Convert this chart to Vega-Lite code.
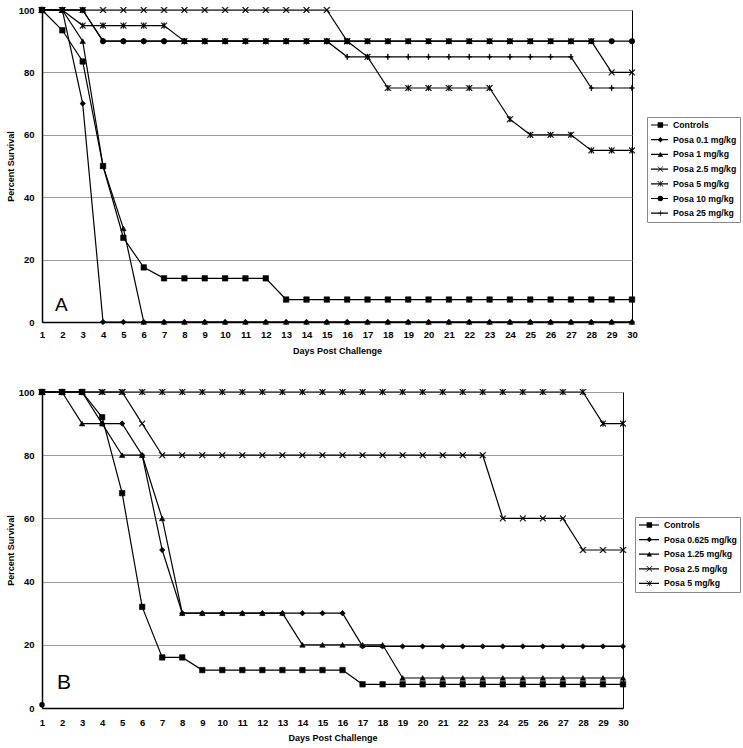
{
"$schema": "https://vega.github.io/schema/vega-lite/v6.json",
"background": "white",
"padding": {"left": 5, "top": 4, "right": 2, "bottom": 2},
"spacing": 30,
"config": {
  "font": "Liberation Sans",
  "view": {"stroke": "black", "strokeWidth": 1},
  "axis": {"labelFont": "Liberation Sans", "labelFontWeight": "bold", "labelFontSize": 9.5, "labelColor": "black", "titleFont": "Liberation Sans", "titleFontWeight": "bold", "titleFontSize": 9, "titleColor": "black", "domainColor": "black", "domainWidth": 1.5, "ticks": false, "gridColor": "#9a9a9a", "gridWidth": 1}
},
"datasets": {
"a": [
{"d":1,"s":"Controls","v":100},{"d":2,"s":"Controls","v":93.5},{"d":3,"s":"Controls","v":83.5},{"d":4,"s":"Controls","v":50},{"d":5,"s":"Controls","v":27},{"d":6,"s":"Controls","v":17.5},{"d":7,"s":"Controls","v":14},{"d":8,"s":"Controls","v":14},{"d":9,"s":"Controls","v":14},{"d":10,"s":"Controls","v":14},{"d":11,"s":"Controls","v":14},{"d":12,"s":"Controls","v":14},{"d":13,"s":"Controls","v":7.2},{"d":14,"s":"Controls","v":7.2},{"d":15,"s":"Controls","v":7.2},{"d":16,"s":"Controls","v":7.2},{"d":17,"s":"Controls","v":7.2},{"d":18,"s":"Controls","v":7.2},{"d":19,"s":"Controls","v":7.2},{"d":20,"s":"Controls","v":7.2},{"d":21,"s":"Controls","v":7.2},{"d":22,"s":"Controls","v":7.2},{"d":23,"s":"Controls","v":7.2},{"d":24,"s":"Controls","v":7.2},{"d":25,"s":"Controls","v":7.2},{"d":26,"s":"Controls","v":7.2},{"d":27,"s":"Controls","v":7.2},{"d":28,"s":"Controls","v":7.2},{"d":29,"s":"Controls","v":7.2},{"d":30,"s":"Controls","v":7.2},
{"d":1,"s":"Posa 0.1 mg/kg","v":100},{"d":2,"s":"Posa 0.1 mg/kg","v":100},{"d":3,"s":"Posa 0.1 mg/kg","v":70},{"d":4,"s":"Posa 0.1 mg/kg","v":0},{"d":5,"s":"Posa 0.1 mg/kg","v":0},{"d":6,"s":"Posa 0.1 mg/kg","v":0},{"d":7,"s":"Posa 0.1 mg/kg","v":0},{"d":8,"s":"Posa 0.1 mg/kg","v":0},{"d":9,"s":"Posa 0.1 mg/kg","v":0},{"d":10,"s":"Posa 0.1 mg/kg","v":0},{"d":11,"s":"Posa 0.1 mg/kg","v":0},{"d":12,"s":"Posa 0.1 mg/kg","v":0},{"d":13,"s":"Posa 0.1 mg/kg","v":0},{"d":14,"s":"Posa 0.1 mg/kg","v":0},{"d":15,"s":"Posa 0.1 mg/kg","v":0},{"d":16,"s":"Posa 0.1 mg/kg","v":0},{"d":17,"s":"Posa 0.1 mg/kg","v":0},{"d":18,"s":"Posa 0.1 mg/kg","v":0},{"d":19,"s":"Posa 0.1 mg/kg","v":0},{"d":20,"s":"Posa 0.1 mg/kg","v":0},{"d":21,"s":"Posa 0.1 mg/kg","v":0},{"d":22,"s":"Posa 0.1 mg/kg","v":0},{"d":23,"s":"Posa 0.1 mg/kg","v":0},{"d":24,"s":"Posa 0.1 mg/kg","v":0},{"d":25,"s":"Posa 0.1 mg/kg","v":0},{"d":26,"s":"Posa 0.1 mg/kg","v":0},{"d":27,"s":"Posa 0.1 mg/kg","v":0},{"d":28,"s":"Posa 0.1 mg/kg","v":0},{"d":29,"s":"Posa 0.1 mg/kg","v":0},{"d":30,"s":"Posa 0.1 mg/kg","v":0},
{"d":1,"s":"Posa 1 mg/kg","v":100},{"d":2,"s":"Posa 1 mg/kg","v":100},{"d":3,"s":"Posa 1 mg/kg","v":90},{"d":4,"s":"Posa 1 mg/kg","v":50},{"d":5,"s":"Posa 1 mg/kg","v":30},{"d":6,"s":"Posa 1 mg/kg","v":0},{"d":7,"s":"Posa 1 mg/kg","v":0},{"d":8,"s":"Posa 1 mg/kg","v":0},{"d":9,"s":"Posa 1 mg/kg","v":0},{"d":10,"s":"Posa 1 mg/kg","v":0},{"d":11,"s":"Posa 1 mg/kg","v":0},{"d":12,"s":"Posa 1 mg/kg","v":0},{"d":13,"s":"Posa 1 mg/kg","v":0},{"d":14,"s":"Posa 1 mg/kg","v":0},{"d":15,"s":"Posa 1 mg/kg","v":0},{"d":16,"s":"Posa 1 mg/kg","v":0},{"d":17,"s":"Posa 1 mg/kg","v":0},{"d":18,"s":"Posa 1 mg/kg","v":0},{"d":19,"s":"Posa 1 mg/kg","v":0},{"d":20,"s":"Posa 1 mg/kg","v":0},{"d":21,"s":"Posa 1 mg/kg","v":0},{"d":22,"s":"Posa 1 mg/kg","v":0},{"d":23,"s":"Posa 1 mg/kg","v":0},{"d":24,"s":"Posa 1 mg/kg","v":0},{"d":25,"s":"Posa 1 mg/kg","v":0},{"d":26,"s":"Posa 1 mg/kg","v":0},{"d":27,"s":"Posa 1 mg/kg","v":0},{"d":28,"s":"Posa 1 mg/kg","v":0},{"d":29,"s":"Posa 1 mg/kg","v":0},{"d":30,"s":"Posa 1 mg/kg","v":0},
{"d":1,"s":"Posa 2.5 mg/kg","v":100},{"d":2,"s":"Posa 2.5 mg/kg","v":100},{"d":3,"s":"Posa 2.5 mg/kg","v":100},{"d":4,"s":"Posa 2.5 mg/kg","v":100},{"d":5,"s":"Posa 2.5 mg/kg","v":100},{"d":6,"s":"Posa 2.5 mg/kg","v":100},{"d":7,"s":"Posa 2.5 mg/kg","v":100},{"d":8,"s":"Posa 2.5 mg/kg","v":100},{"d":9,"s":"Posa 2.5 mg/kg","v":100},{"d":10,"s":"Posa 2.5 mg/kg","v":100},{"d":11,"s":"Posa 2.5 mg/kg","v":100},{"d":12,"s":"Posa 2.5 mg/kg","v":100},{"d":13,"s":"Posa 2.5 mg/kg","v":100},{"d":14,"s":"Posa 2.5 mg/kg","v":100},{"d":15,"s":"Posa 2.5 mg/kg","v":100},{"d":16,"s":"Posa 2.5 mg/kg","v":90},{"d":17,"s":"Posa 2.5 mg/kg","v":90},{"d":18,"s":"Posa 2.5 mg/kg","v":90},{"d":19,"s":"Posa 2.5 mg/kg","v":90},{"d":20,"s":"Posa 2.5 mg/kg","v":90},{"d":21,"s":"Posa 2.5 mg/kg","v":90},{"d":22,"s":"Posa 2.5 mg/kg","v":90},{"d":23,"s":"Posa 2.5 mg/kg","v":90},{"d":24,"s":"Posa 2.5 mg/kg","v":90},{"d":25,"s":"Posa 2.5 mg/kg","v":90},{"d":26,"s":"Posa 2.5 mg/kg","v":90},{"d":27,"s":"Posa 2.5 mg/kg","v":90},{"d":28,"s":"Posa 2.5 mg/kg","v":90},{"d":29,"s":"Posa 2.5 mg/kg","v":80},{"d":30,"s":"Posa 2.5 mg/kg","v":80},
{"d":1,"s":"Posa 5 mg/kg","v":100},{"d":2,"s":"Posa 5 mg/kg","v":100},{"d":3,"s":"Posa 5 mg/kg","v":95},{"d":4,"s":"Posa 5 mg/kg","v":95},{"d":5,"s":"Posa 5 mg/kg","v":95},{"d":6,"s":"Posa 5 mg/kg","v":95},{"d":7,"s":"Posa 5 mg/kg","v":95},{"d":8,"s":"Posa 5 mg/kg","v":90},{"d":9,"s":"Posa 5 mg/kg","v":90},{"d":10,"s":"Posa 5 mg/kg","v":90},{"d":11,"s":"Posa 5 mg/kg","v":90},{"d":12,"s":"Posa 5 mg/kg","v":90},{"d":13,"s":"Posa 5 mg/kg","v":90},{"d":14,"s":"Posa 5 mg/kg","v":90},{"d":15,"s":"Posa 5 mg/kg","v":90},{"d":16,"s":"Posa 5 mg/kg","v":90},{"d":17,"s":"Posa 5 mg/kg","v":85},{"d":18,"s":"Posa 5 mg/kg","v":75},{"d":19,"s":"Posa 5 mg/kg","v":75},{"d":20,"s":"Posa 5 mg/kg","v":75},{"d":21,"s":"Posa 5 mg/kg","v":75},{"d":22,"s":"Posa 5 mg/kg","v":75},{"d":23,"s":"Posa 5 mg/kg","v":75},{"d":24,"s":"Posa 5 mg/kg","v":65},{"d":25,"s":"Posa 5 mg/kg","v":60},{"d":26,"s":"Posa 5 mg/kg","v":60},{"d":27,"s":"Posa 5 mg/kg","v":60},{"d":28,"s":"Posa 5 mg/kg","v":55},{"d":29,"s":"Posa 5 mg/kg","v":55},{"d":30,"s":"Posa 5 mg/kg","v":55},
{"d":1,"s":"Posa 10 mg/kg","v":100},{"d":2,"s":"Posa 10 mg/kg","v":100},{"d":3,"s":"Posa 10 mg/kg","v":100},{"d":4,"s":"Posa 10 mg/kg","v":90},{"d":5,"s":"Posa 10 mg/kg","v":90},{"d":6,"s":"Posa 10 mg/kg","v":90},{"d":7,"s":"Posa 10 mg/kg","v":90},{"d":8,"s":"Posa 10 mg/kg","v":90},{"d":9,"s":"Posa 10 mg/kg","v":90},{"d":10,"s":"Posa 10 mg/kg","v":90},{"d":11,"s":"Posa 10 mg/kg","v":90},{"d":12,"s":"Posa 10 mg/kg","v":90},{"d":13,"s":"Posa 10 mg/kg","v":90},{"d":14,"s":"Posa 10 mg/kg","v":90},{"d":15,"s":"Posa 10 mg/kg","v":90},{"d":16,"s":"Posa 10 mg/kg","v":90},{"d":17,"s":"Posa 10 mg/kg","v":90},{"d":18,"s":"Posa 10 mg/kg","v":90},{"d":19,"s":"Posa 10 mg/kg","v":90},{"d":20,"s":"Posa 10 mg/kg","v":90},{"d":21,"s":"Posa 10 mg/kg","v":90},{"d":22,"s":"Posa 10 mg/kg","v":90},{"d":23,"s":"Posa 10 mg/kg","v":90},{"d":24,"s":"Posa 10 mg/kg","v":90},{"d":25,"s":"Posa 10 mg/kg","v":90},{"d":26,"s":"Posa 10 mg/kg","v":90},{"d":27,"s":"Posa 10 mg/kg","v":90},{"d":28,"s":"Posa 10 mg/kg","v":90},{"d":29,"s":"Posa 10 mg/kg","v":90},{"d":30,"s":"Posa 10 mg/kg","v":90},
{"d":1,"s":"Posa 25 mg/kg","v":100},{"d":2,"s":"Posa 25 mg/kg","v":100},{"d":3,"s":"Posa 25 mg/kg","v":100},{"d":4,"s":"Posa 25 mg/kg","v":90},{"d":5,"s":"Posa 25 mg/kg","v":90},{"d":6,"s":"Posa 25 mg/kg","v":90},{"d":7,"s":"Posa 25 mg/kg","v":90},{"d":8,"s":"Posa 25 mg/kg","v":90},{"d":9,"s":"Posa 25 mg/kg","v":90},{"d":10,"s":"Posa 25 mg/kg","v":90},{"d":11,"s":"Posa 25 mg/kg","v":90},{"d":12,"s":"Posa 25 mg/kg","v":90},{"d":13,"s":"Posa 25 mg/kg","v":90},{"d":14,"s":"Posa 25 mg/kg","v":90},{"d":15,"s":"Posa 25 mg/kg","v":90},{"d":16,"s":"Posa 25 mg/kg","v":85},{"d":17,"s":"Posa 25 mg/kg","v":85},{"d":18,"s":"Posa 25 mg/kg","v":85},{"d":19,"s":"Posa 25 mg/kg","v":85},{"d":20,"s":"Posa 25 mg/kg","v":85},{"d":21,"s":"Posa 25 mg/kg","v":85},{"d":22,"s":"Posa 25 mg/kg","v":85},{"d":23,"s":"Posa 25 mg/kg","v":85},{"d":24,"s":"Posa 25 mg/kg","v":85},{"d":25,"s":"Posa 25 mg/kg","v":85},{"d":26,"s":"Posa 25 mg/kg","v":85},{"d":27,"s":"Posa 25 mg/kg","v":85},{"d":28,"s":"Posa 25 mg/kg","v":75},{"d":29,"s":"Posa 25 mg/kg","v":75},{"d":30,"s":"Posa 25 mg/kg","v":75}
],
"b": [
{"d":1,"s":"Controls","v":100},{"d":2,"s":"Controls","v":100},{"d":3,"s":"Controls","v":100},{"d":4,"s":"Controls","v":92},{"d":5,"s":"Controls","v":68},{"d":6,"s":"Controls","v":32},{"d":7,"s":"Controls","v":16},{"d":8,"s":"Controls","v":16},{"d":9,"s":"Controls","v":12},{"d":10,"s":"Controls","v":12},{"d":11,"s":"Controls","v":12},{"d":12,"s":"Controls","v":12},{"d":13,"s":"Controls","v":12},{"d":14,"s":"Controls","v":12},{"d":15,"s":"Controls","v":12},{"d":16,"s":"Controls","v":12},{"d":17,"s":"Controls","v":7.5},{"d":18,"s":"Controls","v":7.5},{"d":19,"s":"Controls","v":7.5},{"d":20,"s":"Controls","v":7.5},{"d":21,"s":"Controls","v":7.5},{"d":22,"s":"Controls","v":7.5},{"d":23,"s":"Controls","v":7.5},{"d":24,"s":"Controls","v":7.5},{"d":25,"s":"Controls","v":7.5},{"d":26,"s":"Controls","v":7.5},{"d":27,"s":"Controls","v":7.5},{"d":28,"s":"Controls","v":7.5},{"d":29,"s":"Controls","v":7.5},{"d":30,"s":"Controls","v":7.5},
{"d":1,"s":"Posa 0.625 mg/kg","v":100},{"d":2,"s":"Posa 0.625 mg/kg","v":100},{"d":3,"s":"Posa 0.625 mg/kg","v":100},{"d":4,"s":"Posa 0.625 mg/kg","v":90},{"d":5,"s":"Posa 0.625 mg/kg","v":90},{"d":6,"s":"Posa 0.625 mg/kg","v":80},{"d":7,"s":"Posa 0.625 mg/kg","v":50},{"d":8,"s":"Posa 0.625 mg/kg","v":30},{"d":9,"s":"Posa 0.625 mg/kg","v":30},{"d":10,"s":"Posa 0.625 mg/kg","v":30},{"d":11,"s":"Posa 0.625 mg/kg","v":30},{"d":12,"s":"Posa 0.625 mg/kg","v":30},{"d":13,"s":"Posa 0.625 mg/kg","v":30},{"d":14,"s":"Posa 0.625 mg/kg","v":30},{"d":15,"s":"Posa 0.625 mg/kg","v":30},{"d":16,"s":"Posa 0.625 mg/kg","v":30},{"d":17,"s":"Posa 0.625 mg/kg","v":19.5},{"d":18,"s":"Posa 0.625 mg/kg","v":19.5},{"d":19,"s":"Posa 0.625 mg/kg","v":19.5},{"d":20,"s":"Posa 0.625 mg/kg","v":19.5},{"d":21,"s":"Posa 0.625 mg/kg","v":19.5},{"d":22,"s":"Posa 0.625 mg/kg","v":19.5},{"d":23,"s":"Posa 0.625 mg/kg","v":19.5},{"d":24,"s":"Posa 0.625 mg/kg","v":19.5},{"d":25,"s":"Posa 0.625 mg/kg","v":19.5},{"d":26,"s":"Posa 0.625 mg/kg","v":19.5},{"d":27,"s":"Posa 0.625 mg/kg","v":19.5},{"d":28,"s":"Posa 0.625 mg/kg","v":19.5},{"d":29,"s":"Posa 0.625 mg/kg","v":19.5},{"d":30,"s":"Posa 0.625 mg/kg","v":19.5},
{"d":1,"s":"Posa 1.25 mg/kg","v":100},{"d":2,"s":"Posa 1.25 mg/kg","v":100},{"d":3,"s":"Posa 1.25 mg/kg","v":90},{"d":4,"s":"Posa 1.25 mg/kg","v":90},{"d":5,"s":"Posa 1.25 mg/kg","v":80},{"d":6,"s":"Posa 1.25 mg/kg","v":80},{"d":7,"s":"Posa 1.25 mg/kg","v":60},{"d":8,"s":"Posa 1.25 mg/kg","v":30},{"d":9,"s":"Posa 1.25 mg/kg","v":30},{"d":10,"s":"Posa 1.25 mg/kg","v":30},{"d":11,"s":"Posa 1.25 mg/kg","v":30},{"d":12,"s":"Posa 1.25 mg/kg","v":30},{"d":13,"s":"Posa 1.25 mg/kg","v":30},{"d":14,"s":"Posa 1.25 mg/kg","v":20},{"d":15,"s":"Posa 1.25 mg/kg","v":20},{"d":16,"s":"Posa 1.25 mg/kg","v":20},{"d":17,"s":"Posa 1.25 mg/kg","v":20},{"d":18,"s":"Posa 1.25 mg/kg","v":20},{"d":19,"s":"Posa 1.25 mg/kg","v":9.5},{"d":20,"s":"Posa 1.25 mg/kg","v":9.5},{"d":21,"s":"Posa 1.25 mg/kg","v":9.5},{"d":22,"s":"Posa 1.25 mg/kg","v":9.5},{"d":23,"s":"Posa 1.25 mg/kg","v":9.5},{"d":24,"s":"Posa 1.25 mg/kg","v":9.5},{"d":25,"s":"Posa 1.25 mg/kg","v":9.5},{"d":26,"s":"Posa 1.25 mg/kg","v":9.5},{"d":27,"s":"Posa 1.25 mg/kg","v":9.5},{"d":28,"s":"Posa 1.25 mg/kg","v":9.5},{"d":29,"s":"Posa 1.25 mg/kg","v":9.5},{"d":30,"s":"Posa 1.25 mg/kg","v":9.5},
{"d":1,"s":"Posa 2.5 mg/kg","v":100},{"d":2,"s":"Posa 2.5 mg/kg","v":100},{"d":3,"s":"Posa 2.5 mg/kg","v":100},{"d":4,"s":"Posa 2.5 mg/kg","v":100},{"d":5,"s":"Posa 2.5 mg/kg","v":100},{"d":6,"s":"Posa 2.5 mg/kg","v":90},{"d":7,"s":"Posa 2.5 mg/kg","v":80},{"d":8,"s":"Posa 2.5 mg/kg","v":80},{"d":9,"s":"Posa 2.5 mg/kg","v":80},{"d":10,"s":"Posa 2.5 mg/kg","v":80},{"d":11,"s":"Posa 2.5 mg/kg","v":80},{"d":12,"s":"Posa 2.5 mg/kg","v":80},{"d":13,"s":"Posa 2.5 mg/kg","v":80},{"d":14,"s":"Posa 2.5 mg/kg","v":80},{"d":15,"s":"Posa 2.5 mg/kg","v":80},{"d":16,"s":"Posa 2.5 mg/kg","v":80},{"d":17,"s":"Posa 2.5 mg/kg","v":80},{"d":18,"s":"Posa 2.5 mg/kg","v":80},{"d":19,"s":"Posa 2.5 mg/kg","v":80},{"d":20,"s":"Posa 2.5 mg/kg","v":80},{"d":21,"s":"Posa 2.5 mg/kg","v":80},{"d":22,"s":"Posa 2.5 mg/kg","v":80},{"d":23,"s":"Posa 2.5 mg/kg","v":80},{"d":24,"s":"Posa 2.5 mg/kg","v":60},{"d":25,"s":"Posa 2.5 mg/kg","v":60},{"d":26,"s":"Posa 2.5 mg/kg","v":60},{"d":27,"s":"Posa 2.5 mg/kg","v":60},{"d":28,"s":"Posa 2.5 mg/kg","v":50},{"d":29,"s":"Posa 2.5 mg/kg","v":50},{"d":30,"s":"Posa 2.5 mg/kg","v":50},
{"d":1,"s":"Posa 5 mg/kg","v":100},{"d":2,"s":"Posa 5 mg/kg","v":100},{"d":3,"s":"Posa 5 mg/kg","v":100},{"d":4,"s":"Posa 5 mg/kg","v":100},{"d":5,"s":"Posa 5 mg/kg","v":100},{"d":6,"s":"Posa 5 mg/kg","v":100},{"d":7,"s":"Posa 5 mg/kg","v":100},{"d":8,"s":"Posa 5 mg/kg","v":100},{"d":9,"s":"Posa 5 mg/kg","v":100},{"d":10,"s":"Posa 5 mg/kg","v":100},{"d":11,"s":"Posa 5 mg/kg","v":100},{"d":12,"s":"Posa 5 mg/kg","v":100},{"d":13,"s":"Posa 5 mg/kg","v":100},{"d":14,"s":"Posa 5 mg/kg","v":100},{"d":15,"s":"Posa 5 mg/kg","v":100},{"d":16,"s":"Posa 5 mg/kg","v":100},{"d":17,"s":"Posa 5 mg/kg","v":100},{"d":18,"s":"Posa 5 mg/kg","v":100},{"d":19,"s":"Posa 5 mg/kg","v":100},{"d":20,"s":"Posa 5 mg/kg","v":100},{"d":21,"s":"Posa 5 mg/kg","v":100},{"d":22,"s":"Posa 5 mg/kg","v":100},{"d":23,"s":"Posa 5 mg/kg","v":100},{"d":24,"s":"Posa 5 mg/kg","v":100},{"d":25,"s":"Posa 5 mg/kg","v":100},{"d":26,"s":"Posa 5 mg/kg","v":100},{"d":27,"s":"Posa 5 mg/kg","v":100},{"d":28,"s":"Posa 5 mg/kg","v":100},{"d":29,"s":"Posa 5 mg/kg","v":90},{"d":30,"s":"Posa 5 mg/kg","v":90}
]
},
"vconcat": [
{
  "width": 590, "height": 312,
  "encoding": {
    "x": {"field": "d", "type": "quantitative", "scale": {"domain": [1, 30], "nice": false}, "axis": {"values": [1,2,3,4,5,6,7,8,9,10,11,12,13,14,15,16,17,18,19,20,21,22,23,24,25,26,27,28,29,30], "grid": false, "title": "Days Post Challenge", "labelPadding": 7, "titlePadding": 8, "labelFlush": false}},
    "y": {"field": "v", "type": "quantitative", "scale": {"domain": [0, 100], "nice": false}, "axis": {"values": [0,20,40,60,80,100], "grid": true, "title": "Percent Survival", "labelPadding": 8, "titlePadding": 3, "labelFlush": false}}
  },
  "layer": [
    {"data": {"name": "a"}, "mark": {"type": "line", "strokeWidth": 1.2},
     "encoding": {"color": {"field": "s", "type": "nominal", "sort": null,
        "scale": {"range": ["black","black","black","black","black","black","black"]},
        "legend": {"orient": "none", "legendX": 605, "legendY": 107, "title": null, "symbolType": "stroke", "symbolSize": 289, "symbolStrokeWidth": 1.2, "labelFont": "Liberation Sans", "labelFontSize": 8.7, "labelFontWeight": "bold", "labelColor": "black", "labelOffset": 4, "strokeColor": "#888", "padding": 3, "clipHeight": 10, "rowPadding": 4.7}}}},
    {"data": {"name": "a"}, "mark": {"type": "point", "filled": true, "color": "black", "stroke": "black", "strokeWidth": 0.6, "size": 30, "opacity": 1},
     "encoding": {"shape": {"field": "s", "type": "nominal",
        "scale": {"domain": ["Controls","Posa 0.1 mg/kg","Posa 1 mg/kg","Posa 2.5 mg/kg","Posa 5 mg/kg","Posa 10 mg/kg","Posa 25 mg/kg"], "range": ["square","diamond","triangle-up","M-1.085,-0.915L0.915,1.085L1.085,0.915L-0.915,-1.085ZM-0.915,1.085L1.085,-0.915L0.915,-1.085L-1.085,0.915Z","M-1.085,-0.915L0.915,1.085L1.085,0.915L-0.915,-1.085ZM-0.915,1.085L1.085,-0.915L0.915,-1.085L-1.085,0.915ZM-0.12,-1L0.12,-1L0.12,1L-0.12,1Z","circle","M-0.12,-1L0.12,-1L0.12,1L-0.12,1ZM-0.8,-0.12L0.8,-0.12L0.8,0.12L-0.8,0.12Z"]},
        "legend": {"orient": "none", "legendX": 611, "legendY": 107, "title": null, "symbolSize": 30, "symbolFillColor": "black", "symbolStrokeColor": "black", "symbolStrokeWidth": 0.6, "labelExpr": "''", "labelFontSize": 8.7, "padding": 3, "clipHeight": 10, "rowPadding": 4.7,
          "encode": {"symbols": {"update": {"stroke": {"value": "black"}, "strokeWidth": {"value": 0.6}, "fill": {"value": "black"}, "opacity": {"value": 1}}}}}}}},
    {"data": {"values": [{"d": 1.95, "v": 5.5, "t": "A"}]}, "mark": {"type": "text", "fontSize": 19, "font": "Liberation Sans", "color": "black", "baseline": "middle", "align": "center"},
     "encoding": {"text": {"field": "t"}}}
  ]
},
{
  "width": 581, "height": 316,
  "encoding": {
    "x": {"field": "d", "type": "quantitative", "scale": {"domain": [1, 30], "nice": false}, "axis": {"values": [1,2,3,4,5,6,7,8,9,10,11,12,13,14,15,16,17,18,19,20,21,22,23,24,25,26,27,28,29,30], "grid": false, "title": "Days Post Challenge", "labelPadding": 9, "titlePadding": 7, "labelFlush": false}},
    "y": {"field": "v", "type": "quantitative", "scale": {"domain": [0, 100], "nice": false}, "axis": {"values": [0,20,40,60,80,100], "grid": true, "title": "Percent Survival", "labelPadding": 8, "titlePadding": 3, "labelFlush": false}}
  },
  "layer": [
    {"data": {"name": "b"}, "mark": {"type": "line", "strokeWidth": 1.2},
     "encoding": {"color": {"field": "s", "type": "nominal", "sort": null,
        "scale": {"range": ["black","black","black","black","black"]},
        "legend": {"orient": "none", "legendX": 593, "legendY": 125, "title": null, "symbolType": "stroke", "symbolSize": 400, "symbolStrokeWidth": 1.2, "labelFont": "Liberation Sans", "labelFontSize": 8.7, "labelFontWeight": "bold", "labelColor": "black", "labelOffset": 4, "strokeColor": "#888", "padding": 3, "clipHeight": 10, "rowPadding": 4.6}}}},
    {"data": {"name": "b"}, "mark": {"type": "point", "filled": true, "color": "black", "stroke": "black", "strokeWidth": 0.6, "size": 30, "opacity": 1},
     "encoding": {"shape": {"field": "s", "type": "nominal",
        "scale": {"domain": ["Controls","Posa 0.625 mg/kg","Posa 1.25 mg/kg","Posa 2.5 mg/kg","Posa 5 mg/kg"], "range": ["square","diamond","triangle-up","M-1.085,-0.915L0.915,1.085L1.085,0.915L-0.915,-1.085ZM-0.915,1.085L1.085,-0.915L0.915,-1.085L-1.085,0.915Z","M-1.085,-0.915L0.915,1.085L1.085,0.915L-0.915,-1.085ZM-0.915,1.085L1.085,-0.915L0.915,-1.085L-1.085,0.915ZM-0.12,-1L0.12,-1L0.12,1L-0.12,1Z"]},
        "legend": {"orient": "none", "legendX": 600, "legendY": 125, "title": null, "symbolSize": 30, "symbolFillColor": "black", "symbolStrokeColor": "black", "symbolStrokeWidth": 0.6, "labelExpr": "''", "labelFontSize": 8.7, "padding": 3, "clipHeight": 10, "rowPadding": 4.6,
          "encode": {"symbols": {"update": {"stroke": {"value": "black"}, "strokeWidth": {"value": 0.6}, "fill": {"value": "black"}, "opacity": {"value": 1}}}}}}}},
    {"data": {"values": [{"d": 1, "v": 1}]}, "mark": {"type": "point", "shape": "circle", "filled": true, "color": "black", "size": 30, "opacity": 1}},
    {"data": {"values": [{"d": 2.1, "v": 8, "t": "B"}]}, "mark": {"type": "text", "fontSize": 21, "font": "Liberation Sans", "color": "black", "baseline": "middle", "align": "center"},
     "encoding": {"text": {"field": "t"}}}
  ]
}
],
"resolve": {"scale": {"color": "independent", "shape": "independent"}}
}
